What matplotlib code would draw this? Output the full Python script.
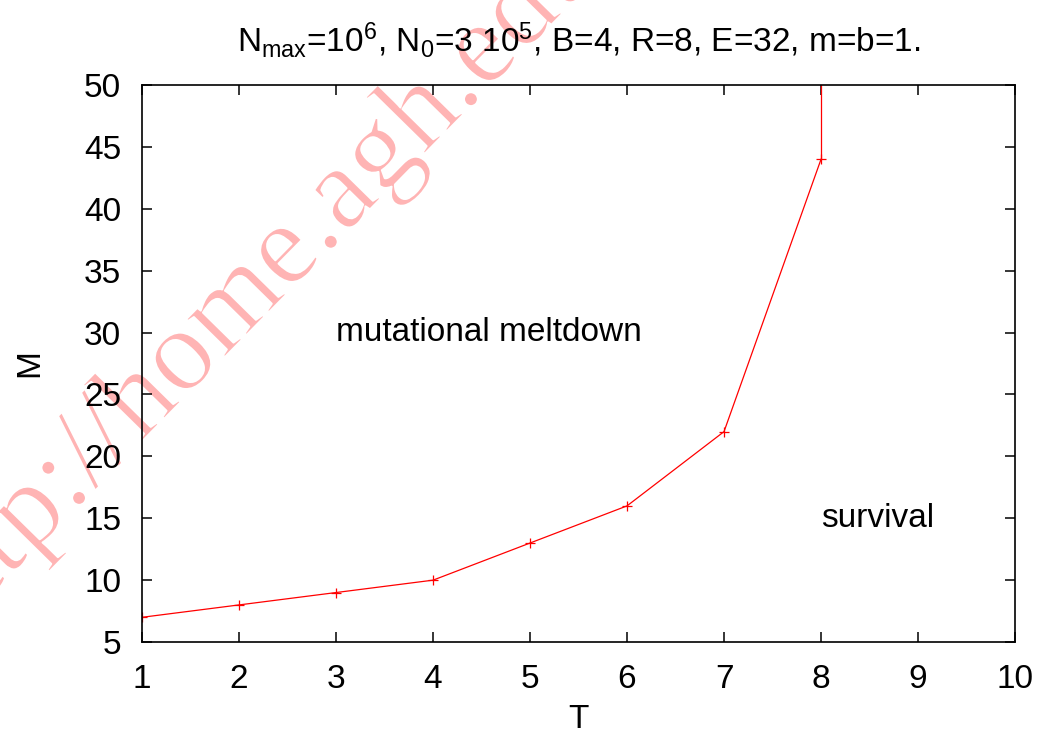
import matplotlib
matplotlib.use("Agg")
import matplotlib.pyplot as plt
import matplotlib.patheffects as pe

plt.rcParams["font.family"] = ["Liberation Sans", "DejaVu Sans"]
plt.rcParams["mathtext.fontset"] = "custom"
plt.rcParams["mathtext.rm"] = "Liberation Sans"
plt.rcParams["mathtext.it"] = "Liberation Sans"

# data
T = [1, 2, 3, 4, 5, 6, 7, 8]
M = [7, 8, 9, 10, 13, 16, 22, 44]
M_err_up = [0, 0, 0, 0, 0, 0, 0, 10]
x_ticks = [1, 2, 3, 4, 5, 6, 7, 8, 9, 10]
y_ticks = [5, 10, 15, 20, 25, 30, 35, 40, 45, 50]
title = r"N$_{\mathrm{max}}$=10$^{6}$, N$_{0}$=3 10$^{5}$, B=4, R=8, E=32, m=b=1."

fs = 24

fig = plt.figure(figsize=(10.42, 7.38), dpi=100)
ax = fig.add_axes([0.1363, 0.130, 0.8378, 0.7548])
ax.patch.set_alpha(0)

ax.errorbar(T, M, yerr=[[0] * len(M_err_up), M_err_up], color="red",
            lw=0.9, marker="+", ms=7, mew=0.9, elinewidth=0.9, capsize=0)

ax.set_xlim(1, 10)
ax.set_ylim(5, 50)
ax.set_xticks(x_ticks)
ax.set_yticks(y_ticks)
ax.tick_params(direction="in", length=7, width=1.1, labelsize=fs,
               top=True, right=True)
ax.tick_params(axis="x", pad=16)
ax.tick_params(axis="y", pad=15)
for s in ax.spines.values():
    s.set_linewidth(1.2)

ax.set_xlabel("T", fontsize=fs, labelpad=6)
ax.set_ylabel("M", fontsize=fs, labelpad=28)
ax.set_title(title, fontsize=fs, pad=24)

ax.text(3, 30, "mutational meltdown", fontsize=fs, ha="left", va="center")
ax.text(8, 15, "survival", fontsize=fs, ha="left", va="center")

# watermark (slightly thinned with a white stroke over the glyph edges)
fig.text(-0.055, 0.127, "http://home.agh.edu.pl", fontsize=85,
         family="Liberation Serif", color="#ffb4b4", rotation=45.5,
         rotation_mode="anchor", ha="left", va="baseline", zorder=-1,
         path_effects=[pe.Normal(), pe.Stroke(linewidth=1.5, foreground="white")])

fig.savefig("out.png", dpi=100)
